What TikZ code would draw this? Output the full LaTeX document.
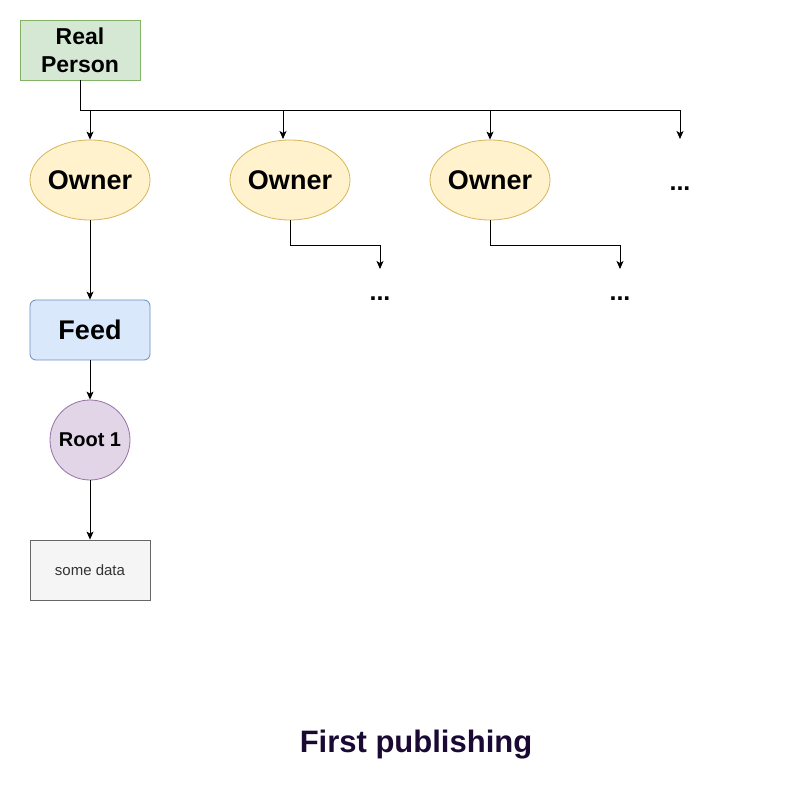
\documentclass[tikz,border=0pt]{standalone}
\usepackage{fontspec}
\setmainfont{Liberation Sans}
\usetikzlibrary{shapes.geometric,arrows.meta}
\definecolor{gfill}{HTML}{D5E8D4}\definecolor{gline}{HTML}{82B366}
\definecolor{yfill}{HTML}{FFF2CC}\definecolor{yline}{HTML}{D6B656}
\definecolor{bfill}{HTML}{DAE8FC}\definecolor{bline}{HTML}{6C8EBF}
\definecolor{pfill}{HTML}{E1D5E7}\definecolor{pline}{HTML}{9673A6}
\definecolor{dfill}{HTML}{F5F5F5}\definecolor{dline}{HTML}{666666}
\definecolor{dtext}{HTML}{333333}\definecolor{ttext}{HTML}{1A0A33}
\begin{document}
\begin{tikzpicture}[x=1pt,y=-1pt,
  conn/.style={draw=black,line width=0.9pt,-{Stealth[length=8pt,width=7pt,inset=2pt]}},
  personbox/.style={draw=gline,fill=gfill,minimum width=120pt,minimum height=60pt,inner sep=0pt,align=center,font=\bfseries\fontsize{23}{28}\selectfont},
  ownernode/.style={ellipse,draw=yline,fill=yfill,minimum width=120pt,minimum height=80pt,inner sep=0pt,font=\bfseries\fontsize{27}{32}\selectfont},
  feedbox/.style={rounded corners=6pt,draw=bline,fill=bfill,minimum width=120pt,minimum height=60pt,inner sep=0pt,font=\bfseries\fontsize{27}{32}\selectfont},
  rootnode/.style={circle,draw=pline,fill=pfill,minimum size=80pt,inner sep=0pt,font=\bfseries\fontsize{20}{24}\selectfont},
  databox/.style={draw=dline,fill=dfill,minimum width=120pt,minimum height=60pt,inner sep=0pt,text=dtext,font=\fontsize{15}{18}\selectfont},
  dots/.style={inner sep=0pt,font=\bfseries\fontsize{25}{30}\selectfont},
  every node/.append style={line width=0.8pt}]
\useasboundingbox (0,0) rectangle (811,791);
\fill[white] (0,0) rectangle (811,791);
\node[personbox] (person) at (80,50) {Real\\Person};
\node[ownernode] (o1) at (90,180) {Owner};
\node[ownernode] (o2) at (290,180) {Owner};
\node[ownernode] (o3) at (490,180) {Owner};
\node[dots] (d4) at (680,189) {...};
\coordinate (t4) at (680,139);
\coordinate (t2) at (283,139);
\node[dots] (d2) at (380,299) {...};
\node[dots] (d3) at (620,299) {...};
\coordinate (e2) at (380,269);
\coordinate (e3) at (620,269);
\node[feedbox] (feed) at (90,330) {Feed};
\node[rootnode] (root) at (90,440) {Root 1};
\node[databox] (data) at (90,570) {some data};
\node[text=ttext,font=\bfseries\fontsize{31}{37}\selectfont] (title) at (416,745) {First publishing};
\draw[conn] (person.south) |- (90,110) -- (o1.north);
\draw[conn] (person.south) |- (283,110) -- (t2);
\draw[conn] (person.south) |- (490,110) -- (o3.north);
\draw[conn] (person.south) |- (680,110) -- (t4);
\draw[conn] (o2.south) |- (380,245) -- (e2);
\draw[conn] (o3.south) |- (620,245) -- (e3);
\draw[conn] (o1) -- (feed);
\draw[conn] (feed) -- (root);
\draw[conn] (root) -- (data);
\end{tikzpicture}
\end{document}
